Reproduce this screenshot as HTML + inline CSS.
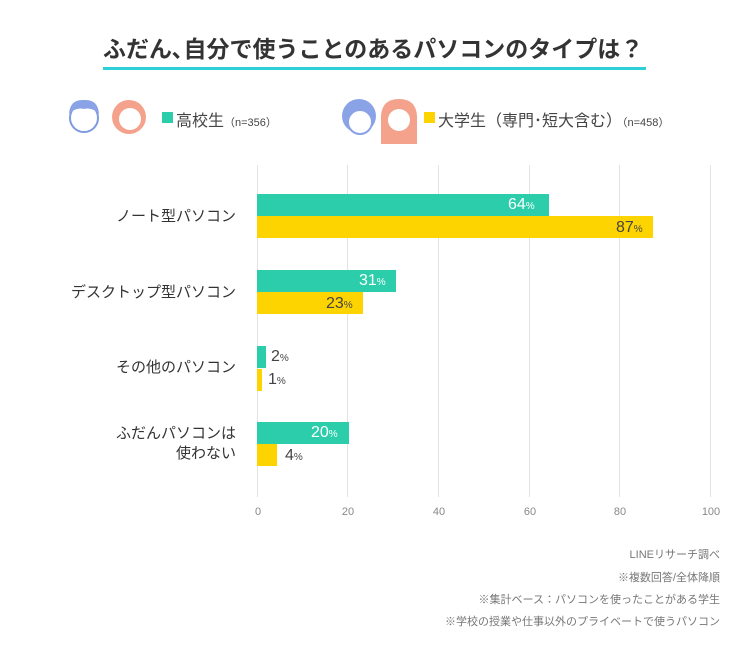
<!DOCTYPE html>
<html><head><meta charset="utf-8"><style>
body{margin:0;width:750px;height:648px;background:#fff;position:relative;overflow:hidden;font-family:"Liberation Sans","Noto Sans CJK JP",sans-serif;color:#444}
.a{position:absolute;white-space:nowrap}
.g{position:absolute;top:165px;width:1px;height:332px;background:#e3e3e3}
.bar{position:absolute;left:257px;height:22px}
.gr{background:#2ccdaa}.ye{background:#fdd400}
.v{position:absolute;font-size:16px;line-height:22px}
.v small{font-size:10px}
.lab{position:absolute;right:514px;font-size:15px;text-align:right;line-height:20px;color:#333}
.t{position:absolute;top:506px;font-size:11px;color:#888;width:40px;text-align:center}
.n{position:absolute;right:30px;font-size:11px;color:#777}
</style></head><body>
<div class="a" style="left:103px;top:30px;font-size:23px;font-weight:bold;color:#333">ふだん､自分で使うことのあるパソコンのタイプは？</div>
<div class="a" style="left:103px;top:67px;width:543px;height:3px;background:#2dd0d6"></div>
<svg class="a" style="left:64px;top:96px" width="400" height="56">
<circle cx="20" cy="22" r="14" fill="#fff" stroke="#7f9be0" stroke-width="2"/>
<path d="M5 18 Q6 3 20 4 Q34 3 35 18 Q28 11 20 13 Q12 11 5 18Z" fill="#8aa3e6"/>
<circle cx="65" cy="21" r="17" fill="#f4a28c"/><circle cx="66" cy="23" r="11" fill="#fff"/>
<circle cx="295" cy="20" r="17" fill="#8aa3e6"/><circle cx="296" cy="26" r="12" fill="#fff" stroke="#8aa3e6" stroke-width="2"/>
<path d="M317 48 L317 20 Q318 3 335 3 Q352 3 353 20 L353 48 Z" fill="#f4a28c"/><circle cx="335" cy="24" r="11" fill="#fff"/>
</svg>
<div class="a" style="left:162px;top:112px;width:11px;height:11px;background:#2ccdaa"></div>
<div class="a" style="left:176px;top:107px;font-size:16px">高校生<span style="font-size:11px">（n=356）</span></div>
<div class="a" style="left:424px;top:112px;width:11px;height:11px;background:#fdd400"></div>
<div class="a" style="left:438px;top:107px;font-size:16px">大学生（専門･短大含む）<span style="font-size:11px">（n=458）</span></div>
<div class="g" style="left:257px"></div><div class="g" style="left:347px"></div><div class="g" style="left:438px"></div><div class="g" style="left:529px"></div><div class="g" style="left:619px"></div><div class="g" style="left:710px"></div>
<div class="bar gr" style="top:194px;width:292px"></div><div class="v" style="top:194px;left:508px;color:#fff">64<small>%</small></div>
<div class="bar ye" style="top:216px;width:396px"></div><div class="v" style="top:217px;left:616px">87<small>%</small></div>
<div class="bar gr" style="top:270px;width:139px"></div><div class="v" style="top:270px;left:359px;color:#fff">31<small>%</small></div>
<div class="bar ye" style="top:292px;width:106px"></div><div class="v" style="top:293px;left:326px">23<small>%</small></div>
<div class="bar gr" style="top:346px;width:9px"></div><div class="v" style="top:346px;left:271px">2<small>%</small></div>
<div class="bar ye" style="top:369px;width:5px"></div><div class="v" style="top:369px;left:268px">1<small>%</small></div>
<div class="bar gr" style="top:422px;width:92px"></div><div class="v" style="top:422px;left:311px;color:#fff">20<small>%</small></div>
<div class="bar ye" style="top:444px;width:20px"></div><div class="v" style="top:445px;left:285px">4<small>%</small></div>
<div class="lab" style="top:207px">ノート型パソコン</div>
<div class="lab" style="top:283px">デスクトップ型パソコン</div>
<div class="lab" style="top:358px">その他のパソコン</div>
<div class="lab" style="top:424px">ふだんパソコンは<br>使わない</div>
<div class="t" style="left:238px">0</div><div class="t" style="left:328px">20</div><div class="t" style="left:419px">40</div><div class="t" style="left:510px">60</div><div class="t" style="left:600px">80</div><div class="t" style="left:691px">100</div>
<div class="n" style="top:546px">LINEリサーチ調べ</div>
<div class="n" style="top:569px">※複数回答/全体降順</div>
<div class="n" style="top:591px">※集計ベース：パソコンを使ったことがある学生</div>
<div class="n" style="top:613px">※学校の授業や仕事以外のプライベートで使うパソコン</div>
</body></html>
